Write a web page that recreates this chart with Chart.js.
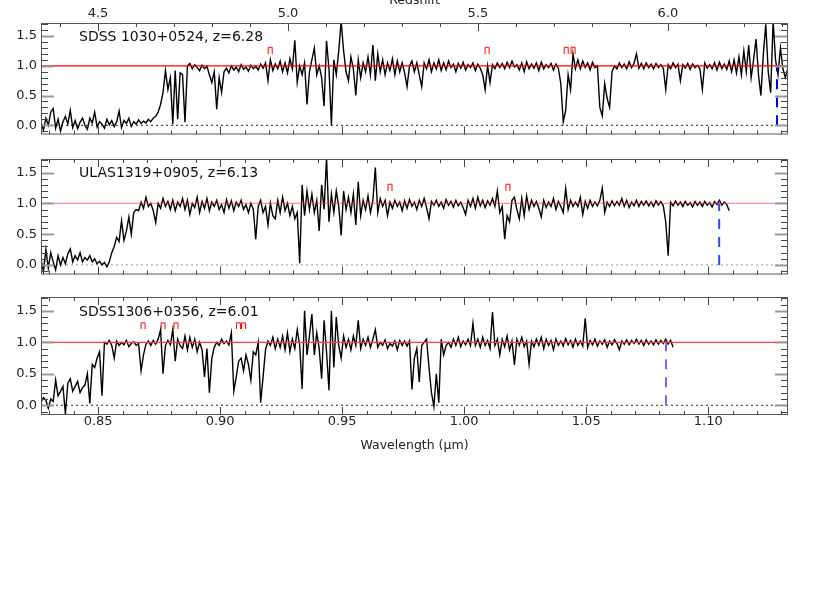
<!DOCTYPE html>
<html>
<head>
<meta charset="utf-8">
<script src="https://cdn.jsdelivr.net/npm/chart.js@4.4.1/dist/chart.umd.min.js"></script>
<style>
  html, body { margin: 0; padding: 0; background: #fff; width: 830px; height: 593px; overflow: hidden; }
  .panel { position: absolute; left: 0; }
  .panel canvas { display: block; }
</style>
</head>
<body>
<div class="panel" style="top:-14px"><canvas id="p1" width="830" height="159"></canvas></div>
<div class="panel" style="top:145px"><canvas id="p2" width="830" height="140"></canvas></div>
<div class="panel" style="top:285px"><canvas id="p3" width="830" height="308"></canvas></div>
<script>
'use strict';

// ---- axis ranges and tick labels ----
const X_MIN = 0.8266, X_MAX = 1.1327;        // wavelength (um)
const Z_MIN = 4.35, Z_MAX = 6.316;           // CIV redshift (top axis)
const Y_MIN = -0.155, Y_MAX = 1.72;          // normalised flux
const X_TICKS = [0.85, 0.90, 0.95, 1.00, 1.05, 1.10];
const Z_TICKS = [4.5, 5.0, 5.5, 6.0];
const Y_TICKS = [0.0, 0.5, 1.0, 1.5];

// ---- spectra, sampled on a regular wavelength grid ----
const WAVE_START = 0.8266;
const WAVE_STEP = 0.001;

const FLUX_1030 = [
  0.05, -0.08, 0.12, 0.00, 0.22, 0.28, -0.05, 0.10, -0.10, 0.06,
  0.15, 0.02, 0.25, -0.04, 0.08, -0.06, 0.05, 0.12, 0.00, -0.07,
  0.12, 0.04, 0.22, -0.03, 0.06, 0.02, -0.05, 0.10, 0.01, 0.08,
  -0.02, 0.06, 0.24, -0.04, 0.08, 0.03, 0.12, -0.02, 0.06, 0.02,
  0.09, 0.03, 0.07, 0.04, 0.10, 0.06, 0.12, 0.15, 0.22, 0.35,
  0.55, 0.92, 0.60, 0.80, 0.02, 0.92, 0.10, 0.88, 0.85, 0.05,
  1.00, 1.04, 0.95, 1.02, 0.97, 0.92, 1.01, 0.95, 0.99, 0.85,
  0.72, 0.90, 0.27, 0.80, 0.55, 0.90, 0.96, 0.88, 1.00, 0.93,
  0.98, 0.90, 1.02, 0.94, 0.98, 0.91, 1.01, 0.95, 0.99, 0.93,
  1.03, 0.96, 1.05, 0.75, 1.10, 0.92, 1.03, 0.95, 1.08, 0.90,
  1.05, 0.88, 1.12, 0.95, 1.43, 0.72, 1.00, 0.85, 1.05, 0.35,
  0.90, 1.10, 1.30, 0.85, 1.00, 0.80, 0.32, 1.42, 0.95, 0.00,
  1.10, 0.85, 1.25, 1.75, 1.25, 0.90, 0.75, 1.15, 0.95, 0.50,
  1.10, 0.80, 1.05, 0.90, 1.15, 0.85, 1.35, 0.75, 1.20, 0.90,
  1.10, 0.85, 1.05, 0.92, 1.12, 0.85, 1.08, 0.90, 1.05, 0.88,
  0.65, 1.00, 1.08, 0.90, 1.05, 0.85, 0.65, 1.05, 0.95, 1.10,
  0.90, 1.05, 0.95, 1.10, 0.92, 1.05, 0.93, 1.08, 0.97, 1.03,
  0.90, 1.04, 0.96, 1.06, 0.93, 1.02, 0.97, 1.05, 0.92, 1.03,
  0.96, 0.85, 0.60, 1.00, 0.72, 1.02, 0.95, 1.05, 0.97, 1.04,
  0.95, 1.06, 0.97, 1.08, 0.98, 1.02, 0.93, 1.05, 0.90, 1.07,
  0.95, 1.03, 0.96, 1.05, 0.92, 1.06, 0.95, 1.02, 0.97, 1.04,
  0.93, 1.03, 0.96, 0.70, 0.06, 0.25, 0.85, 0.60, 1.20, 0.95,
  1.10, 0.95, 1.08, 0.97, 1.05, 0.93, 1.06, 0.97, 1.00, 0.30,
  0.16, 0.70, 0.45, 0.30, 0.90, 1.00, 0.95, 1.05, 0.97, 1.03,
  0.95, 1.07, 0.97, 1.04, 1.20, 0.96, 1.04, 0.95, 1.05, 0.97,
  1.03, 0.95, 1.04, 0.97, 1.02, 0.96, 0.60, 1.02, 0.95, 1.05,
  0.97, 1.03, 0.75, 1.02, 0.96, 1.04, 0.94, 1.03, 0.97, 1.01,
  0.95, 0.60, 1.05, 0.96, 1.02, 0.95, 1.05, 0.93, 1.06, 0.95,
  1.03, 0.94, 1.08, 0.90, 1.10, 0.88, 1.15, 0.85, 1.25, 0.90,
  1.35, 0.80, 1.10, 1.45, 0.85, 0.50, 1.20, 1.70, 0.90, 0.55,
  1.75, 1.10, 0.85, 1.30, 0.95, 0.80, 0.95
];

const FLUX_1319 = [
  0.10, -0.10, 0.25, -0.05, 0.20, 0.05, -0.08, 0.15, 0.00, 0.12,
  0.02, 0.18, 0.26, 0.05, 0.15, 0.08, 0.20, 0.05, 0.12, 0.08,
  0.15, 0.05, 0.10, 0.02, 0.06, 0.00, 0.04, -0.03, 0.05, 0.20,
  0.30, 0.45, 0.38, 0.72, 0.40, 0.55, 0.78, 0.50, 0.85, 0.90,
  0.88, 1.02, 0.92, 1.10, 0.95, 1.00, 0.88, 0.69, 1.00, 0.92,
  1.08, 0.95, 1.03, 0.90, 1.05, 0.88, 1.02, 0.95, 1.08, 0.90,
  1.05, 0.82, 1.00, 0.93, 1.10, 0.85, 1.03, 0.92, 1.08, 0.88,
  1.02, 0.95, 1.05, 0.90, 0.98, 0.85, 1.06, 0.92, 1.04, 0.88,
  1.02, 0.95, 1.05, 0.90, 0.98, 0.85, 1.00, 0.90, 0.42, 0.95,
  1.05, 0.85, 0.95, 0.65, 1.00, 0.80, 0.75, 1.05, 0.85, 1.10,
  0.88, 1.00, 0.80, 0.95, 0.75, 0.85, 0.03, 1.30, 0.80, 1.20,
  0.90, 1.15, 0.85, 1.05, 0.55, 1.30, 0.90, 1.75, 0.70, 1.15,
  0.85, 1.20, 0.95, 0.48, 1.20, 0.90, 1.10, 0.85, 1.15, 0.65,
  1.35, 0.80, 1.05, 0.90, 1.12, 0.85, 1.05, 1.58, 0.85, 1.08,
  0.95, 1.05, 0.80, 1.02, 0.92, 1.05, 0.95, 1.02, 0.88, 1.04,
  0.92, 1.06, 0.95, 1.02, 0.90, 1.05, 0.95, 1.08, 0.93, 0.75,
  1.03, 0.97, 1.05, 0.95, 1.02, 0.92, 1.06, 0.97, 1.03, 0.94,
  1.05, 0.96, 1.02, 0.93, 0.82, 1.05, 0.95, 1.08, 0.92, 1.10,
  0.96, 1.05, 0.93, 1.04, 0.97, 1.08, 0.95, 1.20, 0.85, 0.95,
  0.42, 0.80, 0.70, 1.05, 1.10, 0.90, 0.75, 1.08, 0.80, 1.12,
  0.90, 1.05, 0.95, 1.03, 0.92, 0.78, 1.05, 0.93, 1.02, 0.95,
  1.08, 0.90, 1.03, 0.95, 0.85, 1.24, 0.90, 1.05, 0.95, 1.02,
  0.95, 1.10, 0.82, 1.03, 0.92, 1.05, 0.95, 1.02, 0.96, 1.05,
  1.25, 0.85, 1.02, 0.95, 1.04, 0.96, 1.03, 0.97, 1.08, 0.95,
  1.05, 0.93, 1.02, 0.96, 1.05, 0.95, 1.03, 0.97, 1.04, 0.96,
  1.02, 0.95, 1.04, 0.97, 1.03, 0.96, 0.70, 0.15, 1.02, 0.96,
  1.04, 0.97, 1.02, 0.95, 1.03, 0.97, 1.01, 0.94, 1.03, 0.97,
  1.02, 0.95, 1.03, 0.97, 1.01, 0.94, 1.03, 0.98, 1.05, 0.97,
  1.02, 0.98, 0.88
];

const FLUX_1306 = [
  0.05, 0.12, 0.08, -0.05, 0.10, 0.06, 0.40, 0.15, 0.22, 0.30,
  -0.14, 0.35, 0.42, 0.22, 0.30, 0.38, 0.20, 0.28, 0.32, 0.50,
  0.03, 0.65, 0.60, 0.75, 0.85, 0.15, 1.00, 0.97, 1.03, 0.95,
  0.75, 1.02, 0.95, 1.00, 0.96, 1.03, 0.93, 0.98, 1.01, 0.95,
  0.98, 0.55, 0.80, 0.97, 1.02, 0.95, 1.03, 0.97, 1.05, 1.20,
  0.50, 0.95, 1.03, 0.96, 1.20, 0.70, 1.05, 0.95, 0.90, 1.10,
  0.88, 1.08, 0.92, 1.05, 0.85, 1.00, 0.88, 0.45, 0.90, 0.20,
  0.75, 0.92, 1.00, 0.95, 1.05, 0.98, 1.02, 0.96, 1.15, 0.22,
  0.45, 0.70, 0.75, 0.55, 0.80, 0.65, 0.40, 0.85, 0.80, 1.00,
  0.04, 0.45, 0.88, 1.02, 0.95, 1.08, 0.90, 1.05, 0.92, 1.10,
  0.88, 1.15, 0.85, 1.05, 0.90, 1.20, 0.95, 0.26, 1.50, 0.80,
  1.10, 1.45, 0.80, 1.15, 0.90, 0.42, 1.35, 0.85, 0.24, 1.50,
  0.60, 1.40, 0.95, 0.75, 1.10, 0.92, 1.05, 0.88, 1.10, 0.95,
  1.35, 0.90, 1.05, 0.95, 1.08, 0.92, 1.05, 1.20, 0.92, 1.00,
  0.95, 1.04, 0.90, 0.98, 0.94, 1.02, 0.88, 1.03, 0.95, 1.02,
  0.94, 1.02, 0.25, 0.75, 0.90, 0.37, 0.95, 1.00, 1.05, 0.60,
  0.20, -0.02, 0.50, 0.04, 1.05, 0.80, 0.95, 1.00, 0.92, 1.05,
  0.95, 1.08, 0.93, 1.02, 0.96, 1.05, 0.95, 1.30, 0.95, 1.05,
  0.92, 1.08, 0.95, 1.03, 0.90, 1.48, 0.95, 1.05, 0.80, 1.05,
  0.93, 1.10, 0.88, 1.02, 0.64, 1.05, 0.95, 1.08, 0.93, 1.02,
  0.65, 1.02, 0.93, 1.05, 0.95, 1.08, 0.90, 1.05, 0.95, 1.03,
  0.88, 1.05, 0.95, 1.02, 0.94, 1.06, 0.96, 1.03, 0.92, 1.05,
  0.95, 1.02, 0.94, 1.38, 0.92, 1.03, 0.96, 1.05, 0.94, 1.02,
  0.97, 1.04, 0.92, 1.02, 0.96, 1.04, 0.98, 0.88, 1.02, 0.97,
  1.04, 0.96, 1.03, 0.98, 1.05, 0.97, 1.03, 0.95, 1.04, 0.97,
  1.02, 0.96, 1.04, 0.97, 1.03, 0.98, 1.05, 0.97, 1.03, 0.92
];

// intervening absorber marks (wavelength) and their height
const MARK_1030 = [0.9205, 1.0094, 1.0418, 1.0446];
const MARK_1319 = [0.9696, 1.0179];
const MARK_1306 = [0.8684, 0.8766, 0.8819, 0.9075, 0.9096];
const MARK_LEVEL = 1.27;

// CIV emission wavelength at the quasar redshift
const CIV_1030 = 1.1282, CIV_1319 = 1.1045, CIV_1306 = 1.0827;
const CONTINUUM = 1.0;

const LABEL_X = 0.8422, LABEL_Y = 1.48;
const FONT = "'DejaVu Sans', sans-serif";

function capSymbol(color) {
  const c = document.createElement('canvas');
  c.width = 7; c.height = 8;
  const g = c.getContext('2d');
  g.strokeStyle = color;
  g.lineWidth = 1;
  g.beginPath();
  g.moveTo(1.5, 8); g.lineTo(1.5, 1.5); g.lineTo(5.5, 1.5); g.lineTo(5.5, 8);
  g.stroke();
  return c;
}

// frame, inward IDL-style ticks and the object label
const decorPlugin = {
  id: 'decor',
  afterDatasetsDraw(chart, args, o) {
    const { ctx, chartArea: a, scales } = chart;
    const ys = scales.y, xs = scales.x;
    ctx.save();
    // y ticks, left and right
    for (let k = -1; k <= 17; k++) {
      const py = Math.round(ys.getPixelForValue(k / 10)) + 0.5;
      const major = k % 5 === 0;
      ctx.strokeStyle = major ? '#999' : '#444';
      ctx.lineWidth = major ? 2 : 1;
      const len = major ? 13 : 7;
      ctx.beginPath();
      ctx.moveTo(a.left, py); ctx.lineTo(a.left + len, py);
      ctx.moveTo(a.right, py); ctx.lineTo(a.right - len, py);
      ctx.stroke();
    }
    ctx.strokeStyle = '#444';
    ctx.lineWidth = 1;
    // wavelength ticks
    for (let k = 83; k <= 113; k++) {
      const px = Math.round(xs.getPixelForValue(k / 100)) + 0.5;
      const len = k % 5 === 0 ? 8 : 4;
      ctx.beginPath();
      ctx.moveTo(px, a.bottom); ctx.lineTo(px, a.bottom - len);
      if (!o.top) { ctx.moveTo(px, a.top); ctx.lineTo(px, a.top + len); }
      ctx.stroke();
    }
    // redshift ticks on top of the first panel
    if (o.top) {
      const zs = scales.z;
      for (let k = 44; k <= 63; k++) {
        const px = Math.round(zs.getPixelForValue(k / 10)) + 0.5;
        const len = k % 5 === 0 ? 8 : 4;
        ctx.beginPath();
        ctx.moveTo(px, a.top); ctx.lineTo(px, a.top + len);
        ctx.stroke();
      }
    }
    // frame
    ctx.strokeStyle = '#555';
    ctx.strokeRect(a.left + 0.5, a.top + 0.5, a.right - a.left - 1, a.bottom - a.top - 1);
    // label
    ctx.fillStyle = '#111';
    ctx.font = '14px ' + FONT;
    ctx.textBaseline = 'middle';
    ctx.textAlign = 'left';
    ctx.fillText(o.label, xs.getPixelForValue(LABEL_X), ys.getPixelForValue(LABEL_Y));
    ctx.restore();
  }
};

function buildPanel(id, p) {
  const spectrum = p.flux.map((f, i) => ({ x: WAVE_START + i * WAVE_STEP, y: f }));
  const marks = p.marks.map(w => ({ x: w, y: MARK_LEVEL }));
  const tickFont = { family: FONT, size: 13, lineHeight: 1 };

  const scales = {
    x: {
      type: 'linear', position: 'bottom', min: X_MIN, max: X_MAX,
      display: !!p.showX,
      afterBuildTicks: s => { s.ticks = X_TICKS.map(v => ({ value: v })); },
      afterFit: s => { if (p.showX) s.height = 38; },
      grid: { display: false, drawTicks: false },
      border: { display: false },
      ticks: { padding: 0, color: '#222', font: tickFont, maxRotation: 0, autoSkip: false,
               callback: v => v.toFixed(2) },
      title: { display: true, text: 'Wavelength (µm)', color: '#222', padding: { top: 0, bottom: 0 },
               font: { family: FONT, size: 12.5 } }
    },
    y: {
      type: 'linear', position: 'left', min: Y_MIN, max: Y_MAX,
      afterBuildTicks: s => { s.ticks = Y_TICKS.map(v => ({ value: v })); },
      afterFit: s => { s.width = 41; },
      grid: { display: false, drawTicks: false },
      border: { display: false },
      ticks: { padding: 4, color: '#222', font: tickFont, callback: v => v.toFixed(1) }
    }
  };
  if (p.top) {
    scales.z = {
      type: 'linear', position: 'top', min: Z_MIN, max: Z_MAX,
      afterBuildTicks: s => { s.ticks = Z_TICKS.map(v => ({ value: v })); },
      afterFit: s => { s.height = 37; },
      grid: { display: false, drawTicks: false },
      border: { display: false },
      ticks: { padding: 3, color: '#222', font: tickFont, maxRotation: 0, autoSkip: false,
               callback: v => v.toFixed(1) },
      title: { display: true, text: 'Redshift', color: '#222', padding: { top: 7, bottom: 0 },
               font: { family: FONT, size: 12.5 } }
    };
  }

  return new Chart(document.getElementById(id), {
    type: 'scatter',
    data: {
      datasets: [
        { data: marks, showLine: false, pointStyle: capSymbol('#ff0000'), pointRadius: 4 },
        { data: [{ x: X_MIN, y: CONTINUUM }, { x: X_MAX, y: CONTINUUM }], showLine: true,
          borderColor: p.redColor, borderWidth: 1.2, pointRadius: 0 },
        { data: [{ x: p.civ, y: 0 }, { x: p.civ, y: CONTINUUM }], showLine: true,
          borderColor: p.blueColor, borderWidth: 2, borderDash: [10, 8], pointRadius: 0 },
        { data: spectrum, showLine: true, borderColor: '#000', borderWidth: 1.4,
          pointRadius: 0, tension: 0 },
        { data: [{ x: X_MIN, y: 0 }, { x: X_MAX, y: 0 }], showLine: true,
          borderColor: p.zeroColor, borderWidth: 1, borderDash: [2, 3], pointRadius: 0 }
      ]
    },
    options: {
      responsive: false,
      animation: false,
      events: [],
      layout: { padding: p.padding },
      plugins: {
        legend: { display: false },
        tooltip: { enabled: false },
        decor: { label: p.label, top: !!p.top }
      },
      scales
    },
    plugins: [decorPlugin]
  });
}

buildPanel('p1', {
  flux: FLUX_1030, marks: MARK_1030, civ: CIV_1030, label: 'SDSS 1030+0524, z=6.28',
  top: true, redColor: '#ff0000', blueColor: '#0000ee', zeroColor: '#222',
  padding: { left: 0, right: 42, top: 0, bottom: 3 }
});
buildPanel('p2', {
  flux: FLUX_1319, marks: MARK_1319, civ: CIV_1319, label: 'ULAS1319+0905, z=6.13',
  redColor: 'rgba(235,60,60,0.55)', blueColor: '#3344ff', zeroColor: '#999',
  padding: { left: 0, right: 42, top: 14, bottom: 7 }
});
buildPanel('p3', {
  flux: FLUX_1306, marks: MARK_1306, civ: CIV_1306, label: 'SDSS1306+0356, z=6.01',
  showX: true, redColor: '#ff3b3b', blueColor: '#6a6aff', zeroColor: '#222',
  padding: { left: 0, right: 42, top: 12, bottom: 140 }
});
</script>
</body>
</html>
